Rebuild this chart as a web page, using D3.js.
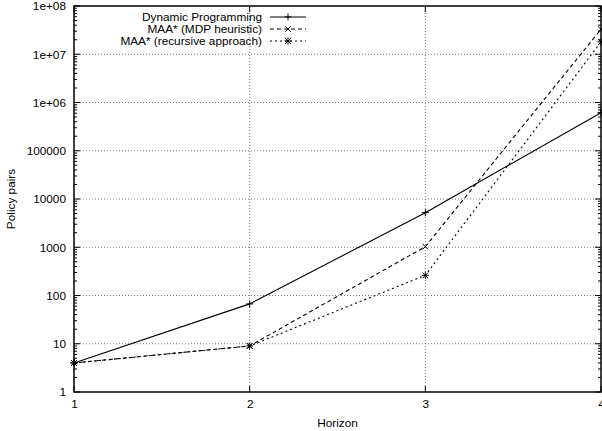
<!DOCTYPE html>
<html>
<head>
<meta charset="utf-8">
<script src="https://cdn.jsdelivr.net/npm/d3@7.9.0/dist/d3.min.js"></script>
<style>
  body { margin: 0; background: #fff; }
  svg text { font-family: "Liberation Sans", Arial, sans-serif; font-size: 11.8px; fill: #000; }
</style>
</head>
<body>
<svg id="chart" width="602" height="431"></svg>
<script>
// horizon values and policy pair counts
const horizons = [1, 2, 3, 4];
const dynamicProgramming = [4, 67, 5200, 616000];
const maaMdp = [4, 9, 1030, 33000000];
const maaRecursive = [4, 9, 262, 18000000];
const yTickValues = [1, 10, 100, 1000, 10000, 100000, 1e6, 1e7, 1e8];
const yTickLabels = ['1', '10', '100', '1000', '10000', '100000', '1e+06', '1e+07', '1e+08'];

const series = [
  { name: 'Dynamic Programming', values: dynamicProgramming, dash: null, marker: 'plus' },
  { name: 'MAA* (MDP heuristic)', values: maaMdp, dash: '4,3', marker: 'cross' },
  { name: 'MAA* (recursive approach)', values: maaRecursive, dash: '2,3', marker: 'star' }
];

const width = 602, height = 431;
const margin = { top: 6, right: 1, bottom: 39, left: 74 };
const svg = d3.select('#chart');

const x = d3.scaleLinear().domain([1, 4]).range([margin.left, width - margin.right]);
const y = d3.scaleLog().domain([1, 1e8]).range([height - margin.bottom, margin.top]);

// grid lines
const grid = svg.append('g')
  .attr('stroke', '#555')
  .attr('stroke-width', 0.8)
  .attr('stroke-dasharray', '1,2');
yTickValues.slice(1, -1).forEach(v => {
  grid.append('line')
    .attr('x1', x(1)).attr('x2', x(4))
    .attr('y1', y(v)).attr('y2', y(v));
});
horizons.slice(1, -1).forEach(h => {
  grid.append('line')
    .attr('x1', x(h)).attr('x2', x(h))
    .attr('y1', y(1)).attr('y2', y(1e8));
});

// minor ticks for the log axis (2..9 in every decade)
const minorTicks = [];
for (let e = 0; e < 8; e++) {
  for (let m = 2; m <= 9; m++) minorTicks.push(m * Math.pow(10, e));
}

// left axis labels
svg.append('g')
  .attr('transform', `translate(${margin.left},0)`)
  .call(d3.axisLeft(y).tickValues(yTickValues).tickFormat((d, i) => yTickLabels[i]).tickSize(0).tickPadding(8))
  .call(g => g.select('.domain').remove());

const ticks = svg.append('g').attr('stroke', '#000').attr('stroke-width', 1);
yTickValues.forEach(v => {
  ticks.append('line').attr('x1', x(1)).attr('x2', x(1) + 6).attr('y1', y(v)).attr('y2', y(v));
  ticks.append('line').attr('x1', x(4)).attr('x2', x(4) - 6).attr('y1', y(v)).attr('y2', y(v));
});
minorTicks.forEach(v => {
  ticks.append('line').attr('x1', x(1)).attr('x2', x(1) + 3).attr('y1', y(v)).attr('y2', y(v));
  ticks.append('line').attr('x1', x(4)).attr('x2', x(4) - 3).attr('y1', y(v)).attr('y2', y(v));
});
horizons.forEach(h => {
  ticks.append('line').attr('x1', x(h)).attr('x2', x(h)).attr('y1', y(1)).attr('y2', y(1) - 6);
  ticks.append('line').attr('x1', x(h)).attr('x2', x(h)).attr('y1', y(1e8)).attr('y2', y(1e8) + 6);
});

// bottom axis labels
svg.append('g')
  .attr('transform', `translate(0,${height - margin.bottom})`)
  .call(d3.axisBottom(x).tickValues(horizons).tickFormat(d3.format('d')).tickSize(0).tickPadding(8))
  .call(g => g.select('.domain').remove());

svg.selectAll('.tick text').style('font-size', '11.8px').attr('fill', '#000');

// frame
svg.append('rect')
  .attr('x', x(1)).attr('y', y(1e8))
  .attr('width', x(4) - x(1)).attr('height', y(1) - y(1e8))
  .attr('fill', 'none').attr('stroke', '#000').attr('stroke-width', 1.5);

// axis titles
svg.append('text')
  .attr('x', (x(1) + x(4)) / 2).attr('y', 427)
  .attr('text-anchor', 'middle').text('Horizon');
svg.append('text')
  .attr('transform', `translate(15,${(y(1) + y(1e8)) / 2}) rotate(-90)`)
  .attr('text-anchor', 'middle').text('Policy pairs');

// marker drawing
function drawMarker(g, cx, cy, type) {
  const s = 3.5;
  const p = d3.path();
  if (type === 'plus' || type === 'star') {
    p.moveTo(cx - s, cy); p.lineTo(cx + s, cy);
    p.moveTo(cx, cy - s); p.lineTo(cx, cy + s);
  }
  if (type === 'cross' || type === 'star') {
    const d = s * 0.8;
    p.moveTo(cx - d, cy - d); p.lineTo(cx + d, cy + d);
    p.moveTo(cx - d, cy + d); p.lineTo(cx + d, cy - d);
  }
  g.append('path').attr('d', p.toString()).attr('stroke', '#000').attr('stroke-width', 1).attr('fill', 'none');
}

const line = d3.line().x(d => x(d[0])).y(d => y(d[1]));

const plot = svg.append('g');
series.forEach(s => {
  const pts = horizons.map((h, i) => [h, s.values[i]]);
  plot.append('path')
    .datum(pts)
    .attr('d', line)
    .attr('fill', 'none')
    .attr('stroke', '#000')
    .attr('stroke-width', 1.1)
    .attr('stroke-dasharray', s.dash);
  pts.forEach(p => drawMarker(plot, x(p[0]), y(p[1]), s.marker));
});

// legend
const legend = svg.append('g');
series.forEach((s, i) => {
  const ly = 17 + i * 12;
  legend.append('text')
    .attr('x', 262).attr('y', ly + 4)
    .attr('text-anchor', 'end').text(s.name);
  legend.append('line')
    .attr('x1', 270).attr('x2', 306).attr('y1', ly).attr('y2', ly)
    .attr('stroke', '#000').attr('stroke-width', 1)
    .attr('stroke-dasharray', s.dash);
  drawMarker(legend, 288, ly, s.marker);
});
</script>
</body>
</html>
